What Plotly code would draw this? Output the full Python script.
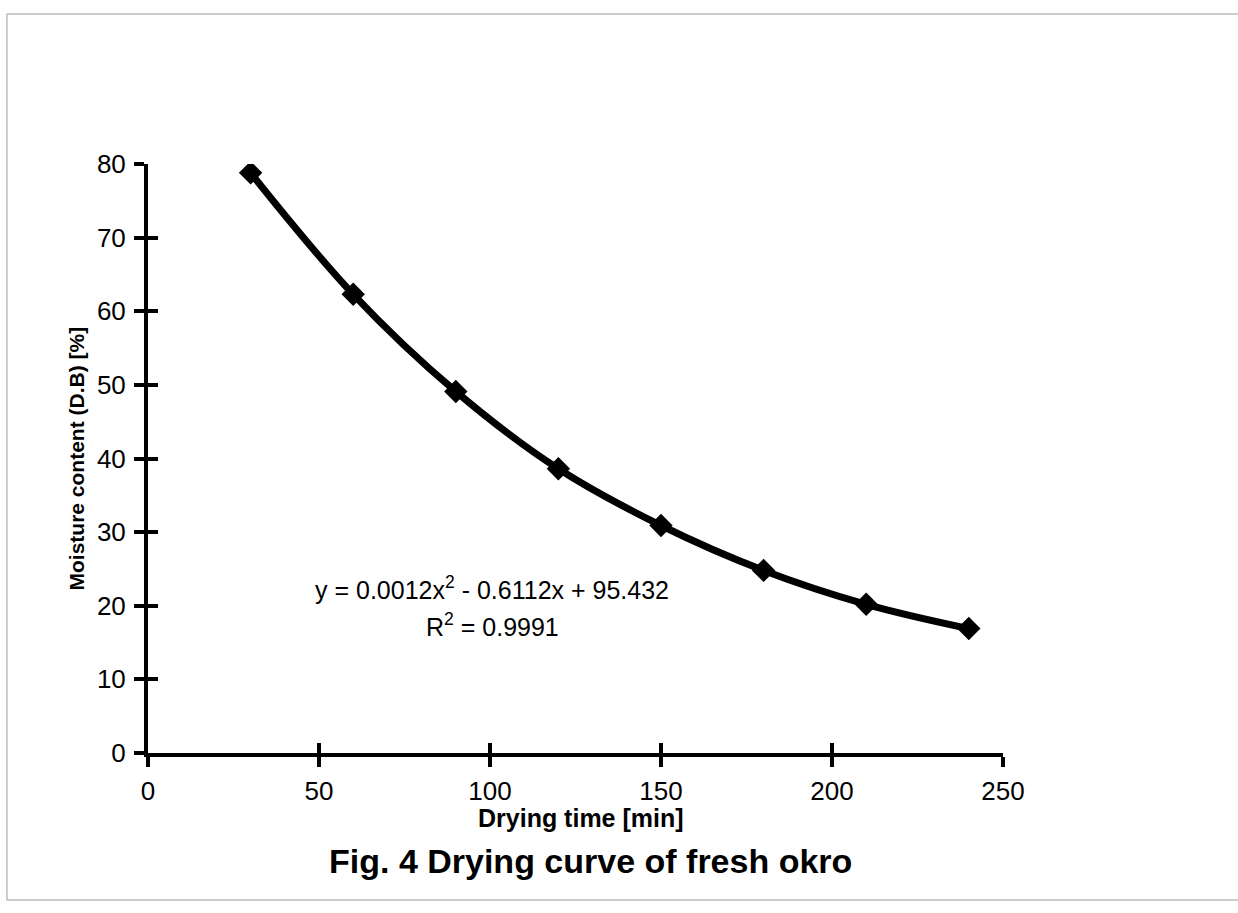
import plotly.graph_objects as go

# Data
drying_time = [30, 60, 90, 120, 150, 180, 210, 240]
moisture = [78.8, 62.3, 49.1, 38.6, 30.9, 24.8, 20.2, 16.9]

x_ticks = [0, 50, 100, 150, 200, 250]
y_ticks = [0, 10, 20, 30, 40, 50, 60, 70, 80]

equation_text = "y = 0.0012x<sup>2</sup> - 0.6112x + 95.432"
r2_text = "R<sup>2</sup> = 0.9991"
x_title = "Drying time [min]"
y_title = "Moisture content (D.B) [%]"
caption = "Fig. 4 Drying curve of fresh okro"

FONT = "Liberation Sans, Arial, sans-serif"

fig = go.Figure()

# Trend curve (smooth through the points)
fig.add_trace(go.Scatter(
    x=drying_time, y=moisture, mode="lines",
    line=dict(color="black", width=7, shape="spline", smoothing=1.0),
    hoverinfo="skip", showlegend=False,
))
# Markers
fig.add_trace(go.Scatter(
    x=drying_time, y=moisture, mode="markers",
    marker=dict(symbol="diamond", size=18, color="black"),
    showlegend=False,
))
# Invisible trace to carry the overlay axes (inside ticks -> cross ticks)
fig.add_trace(go.Scatter(
    x=drying_time, y=moisture, mode="markers", xaxis="x2", yaxis="y2",
    marker=dict(opacity=0), hoverinfo="skip", showlegend=False,
))

axis_common = dict(showgrid=False, zeroline=False)

fig.update_layout(
    width=1238, height=913,
    margin=dict(l=148, r=235, t=164, b=160),
    paper_bgcolor="white", plot_bgcolor="white",
    font=dict(family=FONT, color="black"),
    xaxis=dict(
        range=[0, 250], tickvals=x_ticks, ticks="outside", ticklen=10, tickwidth=4,
        tickcolor="black", showline=True, linecolor="black", linewidth=4,
        tickfont=dict(size=26, family=FONT, color="black"),
        ticklabelstandoff=2, **axis_common,
    ),
    yaxis=dict(
        range=[0, 80], tickvals=y_ticks, ticks="outside", ticklen=10, tickwidth=4,
        tickcolor="black", showline=True, linecolor="black", linewidth=4,
        tickfont=dict(size=26, family=FONT, color="black"),
        ticklabelstandoff=3, **axis_common,
    ),
    xaxis2=dict(
        range=[0, 250], tickvals=x_ticks, ticks="inside", ticklen=10, tickwidth=4,
        tickcolor="black", showline=False, showticklabels=False,
        overlaying="x", anchor="y2", **axis_common,
    ),
    yaxis2=dict(
        range=[0, 80], tickvals=y_ticks, ticks="inside", ticklen=10, tickwidth=4,
        tickcolor="black", showline=False, showticklabels=False,
        overlaying="y", anchor="x2", **axis_common,
    ),
    showlegend=False,
)

annotations = [
    dict(text=equation_text, x=100.6, y=22.4, xref="x", yref="y",
         showarrow=False, xanchor="center", yanchor="middle",
         font=dict(size=25, family=FONT, color="black")),
    dict(text=r2_text, x=100.6, y=17.4, xref="x", yref="y",
         showarrow=False, xanchor="center", yanchor="middle",
         font=dict(size=25, family=FONT, color="black")),
    dict(text="<b>" + x_title + "</b>", x=0.506, y=-0.1100, xref="paper", yref="paper",
         showarrow=False, xanchor="center", yanchor="middle",
         font=dict(size=25, family=FONT, color="black")),
    dict(text="<b>" + y_title + "</b>", x=-0.0842, y=0.5, xref="paper", yref="paper",
         showarrow=False, xanchor="center", yanchor="middle", textangle=-90,
         font=dict(size=21, family=FONT, color="black")),
    dict(text="<b>" + caption + "</b>", x=0.518, y=-0.1834, xref="paper", yref="paper",
         showarrow=False, xanchor="center", yanchor="middle",
         font=dict(size=34, family=FONT, color="black")),
]
fig.update_layout(annotations=annotations)

# Faint scan border
fig.add_shape(type="rect", xref="paper", yref="paper",
              x0=-0.165, x1=1.28, y0=-0.2496, y1=1.2547,
              line=dict(color="#9a9a9a", width=1), layer="below")

fig.write_html("out.html")
